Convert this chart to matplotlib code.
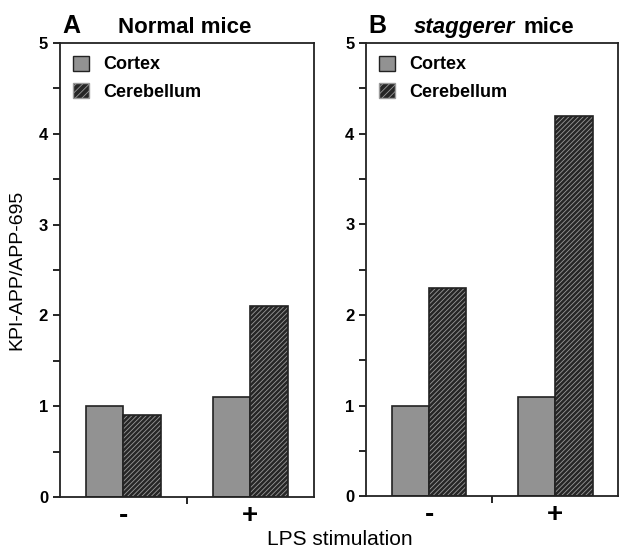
import matplotlib
matplotlib.use("Agg")
import matplotlib.pyplot as plt
import matplotlib.patches as mpatches
from matplotlib.ticker import MultipleLocator, FixedLocator, NullFormatter

plt.rcParams["font.family"] = ["Liberation Sans", "DejaVu Sans"]
plt.rcParams["hatch.linewidth"] = 0.6

conditions = ["-", "+"]
normal_cortex = [1.0, 1.1]
normal_cerebellum = [0.9, 2.1]
stag_cortex = [1.0, 1.1]
stag_cerebellum = [2.3, 4.2]

GRAY = "#929292"
DARK = "#262626"
HATCH = "#9a9a9a"


def draw_panel(fig, ax, cortex, cerebellum, letter, title_x, title_parts):
    x = [0.5, 1.5]
    w = 0.295
    ax.bar([v - w / 2 for v in x], cortex, w, color=GRAY, edgecolor="#222", lw=1.2)
    ax.bar([v + w / 2 for v in x], cerebellum, w, color=DARK, edgecolor=HATCH, lw=0,
           hatch="///////")
    ax.bar([v + w / 2 for v in x], cerebellum, w, fill=False, edgecolor="#222", lw=1.2)
    ax.set_xlim(0, 2)
    ax.set_ylim(0, 5)
    ax.yaxis.set_major_locator(MultipleLocator(1))
    ax.yaxis.set_minor_locator(MultipleLocator(0.5))
    ax.xaxis.set_major_locator(FixedLocator([1.0]))
    ax.xaxis.set_major_formatter(NullFormatter())
    ax.tick_params(axis="y", which="both", direction="out", length=5, width=1.2, labelsize=12)
    ax.tick_params(axis="x", direction="out", length=5, width=1.2)
    for lab in ax.get_yticklabels():
        lab.set_fontweight("bold")
    for xi, c in zip(x, conditions):
        ax.text(xi, -0.042, c, transform=ax.get_xaxis_transform(), ha="center", va="center",
                fontsize=20, fontweight="bold")
    for s in ax.spines.values():
        s.set_linewidth(1.3)
        s.set_color("#222")

    h1 = mpatches.Patch(facecolor=GRAY, edgecolor="#222", label="Cortex")
    h2 = mpatches.Patch(facecolor=DARK, edgecolor=HATCH, hatch="/////", label="Cerebellum")
    ax.legend(handles=[h1, h2], loc="upper left", frameon=False,
              handlelength=0.9, handleheight=0.9, borderaxespad=0.3, labelspacing=0.55,
              handletextpad=0.8, prop={"weight": "bold", "size": 13})

    ax.text(0.01, 1.012, letter, transform=ax.transAxes, fontsize=18, fontweight="bold",
            ha="left", va="bottom")
    xpos = title_x
    for txt, style in title_parts:
        t = ax.text(xpos, 1.012, txt, transform=ax.transAxes, fontsize=16, fontweight="bold",
                    fontstyle=style, ha="left", va="bottom")
        fig.canvas.draw()
        bb = t.get_window_extent().transformed(ax.transAxes.inverted())
        xpos = bb.x1 + 0.03


fig = plt.figure(figsize=(6.24, 5.51), dpi=100)
axA = fig.add_axes([0.096, 0.098, 0.407, 0.824])
axB = fig.add_axes([0.587, 0.099, 0.404, 0.823])

draw_panel(fig, axA, normal_cortex, normal_cerebellum, "A", 0.23, [("Normal mice", "normal")])
draw_panel(fig, axB, stag_cortex, stag_cerebellum, "B", 0.19,
           [("staggerer", "italic"), ("mice", "normal")])

axA.set_ylabel("KPI-APP/APP-695", fontsize=14, labelpad=10)
fig.text(0.545, 0.02, "LPS stimulation", ha="center", va="center", fontsize=15)

fig.savefig("out.png", dpi=100)
